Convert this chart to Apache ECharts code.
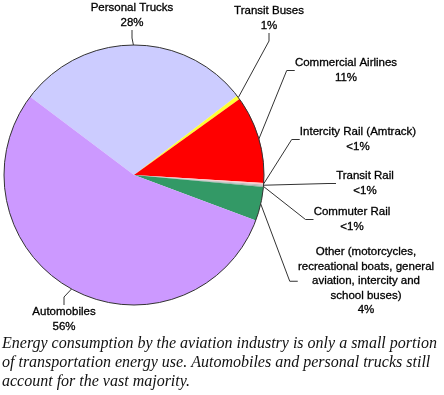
<!DOCTYPE html>
<html>
<head>
<meta charset="utf-8">
<script src="https://cdn.jsdelivr.net/npm/echarts@6/dist/echarts.min.js"></script>
<style>
html,body{margin:0;padding:0;background:#fff;}
#chart{width:444px;height:395px;}
</style>
</head>
<body>
<div id="chart"></div>
<script>
// Data
var categories = [
  'Personal Trucks',
  'Transit Buses',
  'Commercial Airlines',
  'Intercity Rail (Amtrack)',
  'Transit Rail',
  'Commuter Rail',
  'Other (motorcycles,\nrecreational boats, general\naviation, intercity and\nschool buses)',
  'Automobiles'
];
var values = [29.3, 0.5, 10.9, 0.2, 0.15, 0.15, 4.2, 54.6];
// printed percentage labels
var pctLabels = ['28%', '1%', '11%', '<1%', '<1%', '<1%', '4%', '56%'];
var colors = ['#ccccff', '#ffff33', '#ff0000', '#ffcccc', '#c0c0c0', '#a8b0ac', '#339966', '#cc99ff'];
var caption = 'Energy consumption by the aviation industry is only a small portion\nof transportation energy use. Automobiles and personal trucks still\naccount for the vast majority.';

// label placement (x centre, y top of the text block), layout only
var labelPos = [
  [132, 1], [269, 4], [346, 56], [358, 125], [365, 169], [352, 205], [366, 245], [64, 305]
];

var chart = echarts.init(document.getElementById('chart'), null, {renderer: 'canvas'});
var data = categories.map(function (c, i) {
  return { name: c, value: values[i], itemStyle: { color: colors[i] } };
});

chart.setOption({
  backgroundColor: '#ffffff',
  animation: false,
  title: {
    text: caption,
    left: 2,
    top: 334,
    padding: 0,
    textStyle: {
      fontFamily: 'Liberation Serif',
      fontStyle: 'italic',
      fontWeight: 'normal',
      fontSize: 16,
      lineHeight: 19,
      color: '#111'
    }
  },
  series: [
    {
      type: 'pie',
      center: [134, 175],
      radius: [0, 130],
      startAngle: 143,
      clockwise: true,
      avoidLabelOverlap: false,
      data: data,
      itemStyle: { borderWidth: 0 },
      label: {
        show: true,
        position: 'outside',
        alignTo: 'none',
        formatter: function (p) { return p.name + '\n' + pctLabels[p.dataIndex]; },
        fontFamily: 'Liberation Sans',
        fontSize: 11.5,
        lineHeight: 14.5,
        color: '#000',
        textBorderColor: '#000',
        textBorderWidth: 0.3,
        align: 'center'
      },
      labelLine: {
        show: true,
        length: 10,
        length2: 8,
        minTurnAngle: 20,
        lineStyle: { color: '#333', width: 1 }
      },
      labelLayout: function (p) {
        var pos = labelPos[p.dataIndex];
        return { x: pos[0], y: pos[1], align: 'center', verticalAlign: 'top' };
      },
      emphasis: { disabled: true }
    },
    {
      type: 'pie',
      center: [134, 175],
      radius: [0, 130],
      silent: true,
      label: { show: false },
      labelLine: { show: false },
      data: [{ value: 1, name: 'outline', itemStyle: { color: 'rgba(0,0,0,0)', borderColor: '#333', borderWidth: 1 } }],
      emphasis: { disabled: true }
    }
  ]
});
</script>
</body>
</html>
